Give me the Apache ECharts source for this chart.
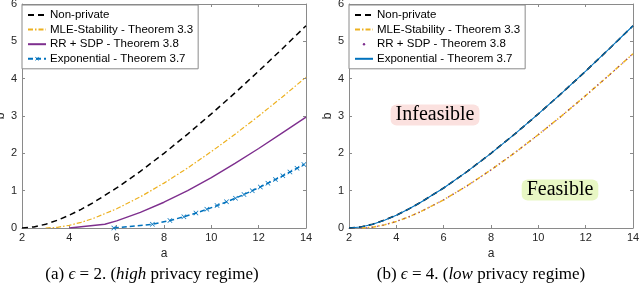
<!DOCTYPE html>
<html><head><meta charset="utf-8">
<script src="https://cdn.jsdelivr.net/npm/echarts@6/dist/echarts.min.js"></script>
<style>html,body{margin:0;padding:0;background:#fff}#c{width:640px;height:287px}</style>
</head><body><div id="c"></div>
<script>
// ---- data ----
const xTicks = [2, 4, 6, 8, 10, 12, 14];
const yTicks = [0, 1, 2, 3, 4, 5, 6];
const seriesNames = ['Non-private', 'MLE-Stability - Theorem 3.3', 'RR + SDP - Theorem 3.8', 'Exponential - Theorem 3.7'];

// shared non-private curve (both panels)
const aNonPrivate = [2, 2.5, 3, 3.5, 4, 4.5, 5, 6, 7, 8, 9, 10, 11, 12, 13, 14];
const bNonPrivate = [0, 0.028, 0.101, 0.209, 0.343, 0.5, 0.676, 1.072, 1.517, 2.0, 2.515, 3.056, 3.619, 4.202, 4.802, 5.417];

// panel (a): eps = 2
const aMleA = [3, 3.5, 4, 4.5, 5, 6, 7, 8, 9, 10, 11, 12, 13, 14];
const bMleA = [0, 0.019, 0.072, 0.152, 0.254, 0.515, 0.835, 1.202, 1.608, 2.046, 2.511, 3.0, 3.51, 4.04];
const aRrA = [4, 5.5, 6, 7, 8, 9, 10, 11, 12, 13, 14];
const bRrA = [0, 0.1, 0.19, 0.42, 0.69, 1.0, 1.35, 1.73, 2.13, 2.55, 2.97];
const aExpA = [5.88, 7.51, 8.25, 8.84, 9.35, 9.81, 10.24, 10.64, 11.02, 11.38, 11.73, 12.07, 12.39, 12.71, 13.02, 13.32, 13.62, 13.91];
const bExpA = [0, 0.1, 0.2, 0.3, 0.4, 0.5, 0.6, 0.7, 0.8, 0.9, 1.0, 1.1, 1.2, 1.3, 1.4, 1.5, 1.6, 1.7];

// panel (b): eps = 4
const aMleB = [2.5, 3, 3.5, 4, 4.5, 5, 6, 7, 8, 9, 10, 11, 12, 13, 14];
const bMleB = [0, 0.023, 0.084, 0.176, 0.292, 0.429, 0.754, 1.134, 1.556, 2.013, 2.5, 3.012, 3.546, 4.099, 4.668];
const aRrB = aMleB;
const bRrB = bMleB;
const aExpB = aNonPrivate;
const bExpB = bNonPrivate;

const captionA = '(a) {i|ϵ} = 2. ({i|high} privacy regime)';
const captionB = '(b) {i|ϵ} = 4. ({i|low} privacy regime)';
const regionLabels = ['Infeasible', 'Feasible'];

// ---- styling ----
const C = { black: '#000000', orange: '#EDB120', purple: '#7E2F8E', blue: '#0072BD' };
const SANS = 'Liberation Sans, Arial, Helvetica, sans-serif';
const SERIF = 'Liberation Serif, DejaVu Serif, serif';
const AXC = '#8a8a8a';
const pairs = (xs, ys) => xs.map((x, i) => [x, ys[i]]);
const xMark = 'path://M0,1L1,0L5,4L9,0L10,1L6,5L10,9L9,10L5,6L1,10L0,9L4,5Z';

const grids = [
  { left: 22, top: 4, width: 284, height: 224, outerBoundsMode: 'none' },
  { left: 349, top: 4, width: 284, height: 224, outerBoundsMode: 'none' }
];

function xAx(g, pos) {
  const main = pos === 'bottom';
  return {
    type: 'value', gridIndex: g, position: pos, min: xTicks[0], max: xTicks[xTicks.length - 1], interval: xTicks[1] - xTicks[0],
    name: main ? 'a' : '', nameLocation: 'middle', nameGap: 17,
    nameTextStyle: { fontFamily: SANS, fontSize: 12, color: '#262626' },
    axisLine: { show: true, onZero: false, lineStyle: { color: AXC, width: 1 } },
    axisTick: { show: true, inside: true, length: 3, lineStyle: { color: AXC } },
    axisLabel: { show: main, margin: 4, fontFamily: SANS, fontSize: 11, color: '#262626' },
    splitLine: { show: false }
  };
}
function yAx(g, pos) {
  const main = pos === 'left';
  return {
    type: 'value', gridIndex: g, position: pos, min: yTicks[0], max: yTicks[yTicks.length - 1], interval: yTicks[1] - yTicks[0],
    name: main ? 'b' : '', nameLocation: 'middle', nameGap: 11, nameRotate: 90,
    nameTextStyle: { fontFamily: SANS, fontSize: 12, color: '#262626' },
    axisLine: { show: true, onZero: false, lineStyle: { color: AXC, width: 1 } },
    axisTick: { show: true, inside: true, length: 3, lineStyle: { color: AXC } },
    axisLabel: { show: main, margin: 5, fontFamily: SANS, fontSize: 11, color: '#262626' },
    splitLine: { show: false }
  };
}

function line(name, g, data, color, width, type, extra) {
  return Object.assign({
    type: 'line', name: name, xAxisIndex: g * 2, yAxisIndex: g * 2, data: data,
    symbol: 'none', showSymbol: false, smooth: false, animation: false, silent: true,
    lineStyle: { color: color, width: width, type: type },
    itemStyle: { color: color }
  }, extra || {});
}

const series = [
  // panel (a)
  line('a|' + seriesNames[0], 0, pairs(aNonPrivate, bNonPrivate), C.black, 1.5, [6, 4]),
  line('a|' + seriesNames[1], 0, pairs(aMleA, bMleA), C.orange, 1.2, [5, 2, 1.5, 2]),
  line('a|' + seriesNames[2], 0, pairs(aRrA, bRrA), C.purple, 1.4, 'solid'),
  line('a|' + seriesNames[3], 0, pairs(aExpA, bExpA), C.blue, 1.5, [5, 3],
    { symbol: xMark, showSymbol: true, symbolSize: 5 }),
  // panel (b)
  line('b|' + seriesNames[0], 1, pairs(aNonPrivate, bNonPrivate), C.black, 1.6, [6, 4]),
  line('b|' + seriesNames[1], 1, pairs(aMleB, bMleB), C.orange, 1.5, [5, 2, 1.5, 2]),
  line('b|' + seriesNames[2], 1, pairs(aRrB, bRrB), C.purple, 1.3, [1, 4.5]),
  line('b|' + seriesNames[3], 1, pairs(aExpB, bExpB), C.blue, 1.1, 'solid')
];

function legend(left, itemH, items) {
  return {
    orient: 'vertical', left: left, top: 5, padding: [3, 5, 3, 5],
    itemWidth: 18, itemHeight: itemH, itemGap: 0.6,
    backgroundColor: '#ffffff', borderColor: '#8a8a8a', borderWidth: 1, borderRadius: 0,
    selectedMode: false,
    textStyle: { fontFamily: SANS, fontSize: 11.5, color: '#000', lineHeight: 14, padding: [0, 0, 0, -1] },
    formatter: n => n.slice(2),
    data: items
  };
}

const legA = legend(22, 5, [
  { name: 'a|' + seriesNames[0], itemStyle: { opacity: 0 } },
  { name: 'a|' + seriesNames[1], itemStyle: { opacity: 0 } },
  { name: 'a|' + seriesNames[2], itemStyle: { opacity: 0 } },
  { name: 'a|' + seriesNames[3] }
]);
const legB = legend(349, 3, [
  { name: 'b|' + seriesNames[0], itemStyle: { opacity: 0 } },
  { name: 'b|' + seriesNames[1], itemStyle: { opacity: 0 } },
  { name: 'b|' + seriesNames[2], lineStyle: { opacity: 0 } },
  { name: 'b|' + seriesNames[3], itemStyle: { opacity: 0 } }
]);

const CAP = 17;
const rich = { i: { fontStyle: 'italic', fontFamily: SERIF, fontSize: CAP, fill: '#000' } };
const graphic = [
  { type: 'text', x: 152, y: 275, silent: true,
    style: { text: captionA, align: 'center', verticalAlign: 'middle', fontFamily: SERIF, fontSize: CAP, fill: '#000', rich: rich } },
  { type: 'text', x: 481, y: 275, silent: true,
    style: { text: captionB, align: 'center', verticalAlign: 'middle', fontFamily: SERIF, fontSize: CAP, fill: '#000', rich: rich } },
  { type: 'text', x: 435, y: 115, silent: true, z: 10,
    style: { text: regionLabels[0], align: 'center', verticalAlign: 'middle', fontFamily: SERIF, fontSize: 20, fill: '#000',
      backgroundColor: '#FBE1DF', padding: [1, 5, 0, 5], borderRadius: 6 } },
  { type: 'text', x: 560, y: 190, silent: true, z: 10,
    style: { text: regionLabels[1], align: 'center', verticalAlign: 'middle', fontFamily: SERIF, fontSize: 20, fill: '#000',
      backgroundColor: '#E8F7C4', padding: [1, 5, 0, 5], borderRadius: 6 } }
];

const chart = echarts.init(document.getElementById('c'), null, { renderer: 'canvas' });
chart.setOption({
  animation: false,
  backgroundColor: '#ffffff',
  grid: grids,
  xAxis: [xAx(0, 'bottom'), xAx(0, 'top'), xAx(1, 'bottom'), xAx(1, 'top')],
  yAxis: [yAx(0, 'left'), yAx(0, 'right'), yAx(1, 'left'), yAx(1, 'right')],
  legend: [legA, legB],
  series: series,
  graphic: graphic
});
</script></body></html>
